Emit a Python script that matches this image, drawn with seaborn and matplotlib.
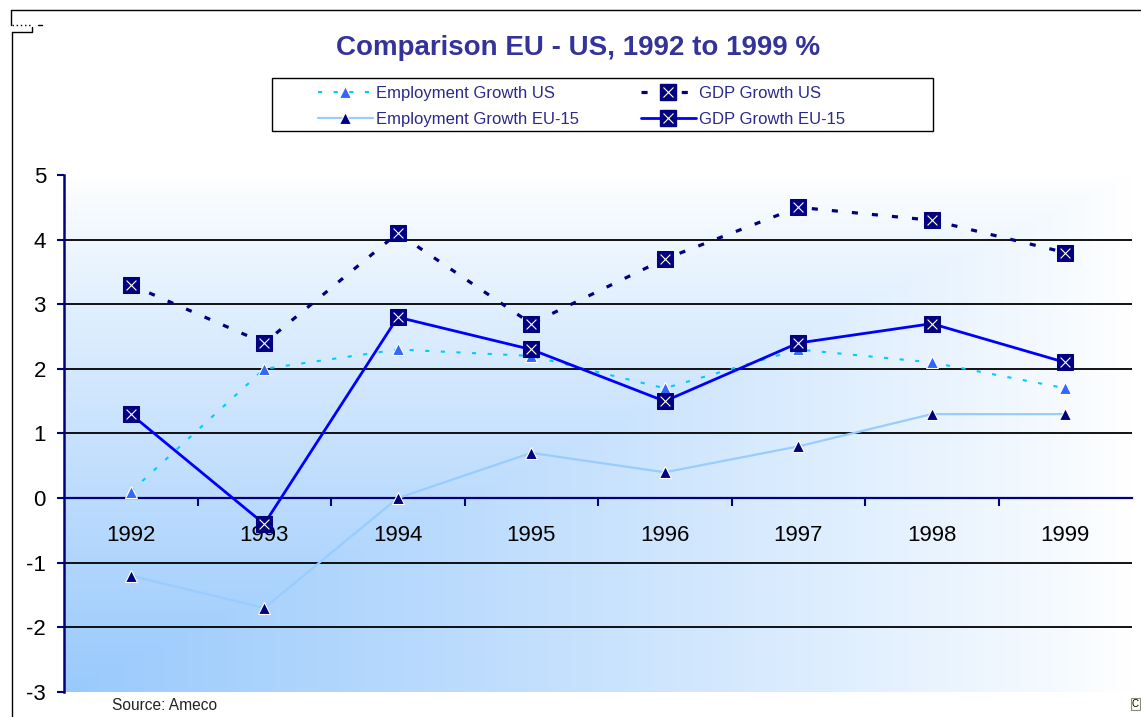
import numpy as np
import pandas as pd
import matplotlib
matplotlib.use("Agg")
import matplotlib.pyplot as plt
import seaborn as sns
from matplotlib.lines import Line2D
from matplotlib.patches import Rectangle
from matplotlib.legend_handler import HandlerTuple

# ---------------- data ----------------
years = ["1992", "1993", "1994", "1995", "1996", "1997", "1998", "1999"]
emp_us = [0.1, 2.0, 2.3, 2.2, 1.7, 2.3, 2.1, 1.7]
gdp_us = [3.3, 2.4, 4.1, 2.7, 3.7, 4.5, 4.3, 3.8]
emp_eu = [-1.2, -1.7, 0.0, 0.7, 0.4, 0.8, 1.3, 1.3]
gdp_eu = [1.3, -0.4, 2.8, 2.3, 1.5, 2.4, 2.7, 2.1]
y_ticks = [-3, -2, -1, 0, 1, 2, 3, 4, 5]
grid_vals = [-2, -1, 1, 2, 3, 4]
labels = ["Employment Growth US", "Employment Growth EU-15",
          "GDP Growth US", "GDP Growth EU-15"]
title = "Comparison EU - US, 1992 to 1999 %"
source = "Source: Ameco"

sns.set_style("white")
plt.rcParams["font.family"] = ["Liberation Sans", "DejaVu Sans"]

W, H = 1141, 717
fig = plt.figure(figsize=(W / 100, H / 100), dpi=100)
ax = fig.add_axes([64 / W, 25 / H, 1068 / W, 517 / H])

xs = np.arange(len(years))
df = pd.DataFrame({"x": xs, "emp_us": emp_us, "gdp_us": gdp_us,
                   "emp_eu": emp_eu, "gdp_eu": gdp_eu})

NAVY = "#000080"
CYAN = "#00ccff"
TRI_US = "#3366ff"
LBLUE = "#99ccff"
BLUE = "#0000ff"

# gradient background (from bottom-left corner)
gw, gh = 400, 300
u = np.linspace(0, 1, gw)[None, :]
v = np.linspace(0, 1, gh)[:, None]
f = (1 - np.maximum(u, v)) ** 0.9
c_blue = np.array([0.60, 0.79, 0.99])
c_white = np.array([1.0, 1.0, 1.0])
img = c_white[None, None, :] * (1 - f[..., None]) + c_blue[None, None, :] * f[..., None]
ax.imshow(img, extent=(-0.5, 7.5, -3, 5), origin="lower", aspect="auto",
          zorder=0, interpolation="bilinear")

# grid lines
ax.hlines(grid_vals, -0.5, 7.5, colors="black", linewidth=1.3, zorder=1)

TRI_MS = 9
SQ_MS = 11.5

# series
sns.lineplot(data=df, x="x", y="emp_us", ax=ax, color=CYAN, linewidth=1.5,
             linestyle=(0, (2, 5.5)), marker="^", markersize=TRI_MS,
             markerfacecolor=TRI_US, markeredgecolor="white",
             markeredgewidth=0.8, zorder=3)
sns.lineplot(data=df, x="x", y="emp_eu", ax=ax, color=LBLUE, linewidth=1.6,
             marker="^", markersize=TRI_MS, markerfacecolor=NAVY,
             markeredgecolor="white", markeredgewidth=0.8, zorder=3)
sns.lineplot(data=df, x="x", y="gdp_us", ax=ax, color=NAVY, linewidth=2.3,
             linestyle=(0, (1.9, 4.4)), marker="s", markersize=SQ_MS,
             markerfacecolor=NAVY, markeredgecolor=NAVY, zorder=4)
sns.scatterplot(data=df, x="x", y="gdp_us", ax=ax, marker="x", s=50,
                color="white", linewidth=0.8, zorder=5)
sns.lineplot(data=df, x="x", y="gdp_eu", ax=ax, color=BLUE, linewidth=2.0,
             marker="s", markersize=SQ_MS, markerfacecolor=NAVY,
             markeredgecolor=NAVY, zorder=4)
sns.scatterplot(data=df, x="x", y="gdp_eu", ax=ax, marker="x", s=50,
                color="white", linewidth=0.8, zorder=5)

ax.set_xlim(-0.5, 7.5)
ax.set_ylim(-3, 5)
ax.set_xlabel("")
ax.set_ylabel("")
for s in ["top", "right"]:
    ax.spines[s].set_visible(False)
ax.spines["bottom"].set_position(("data", 0))
ax.spines["bottom"].set_color(NAVY)
ax.spines["bottom"].set_linewidth(1.6)
ax.spines["bottom"].set_zorder(2)
ax.spines["left"].set_color(NAVY)
ax.spines["left"].set_linewidth(1.8)

ax.set_yticks(y_ticks)
ax.set_yticklabels([str(t) for t in y_ticks])
ax.tick_params(axis="y", which="major", left=True, direction="out",
               length=5, width=1.5, color=NAVY, labelsize=16, pad=8,
               labelcolor="black")

ax.set_xticks(np.arange(0.5, 7.0, 1.0))
ax.set_xticklabels([])
ax.set_xticks(xs, minor=True)
ax.set_xticklabels(years, minor=True)
ax.tick_params(axis="x", which="major", bottom=True, direction="out",
               length=6, width=1.5, color=NAVY)
ax.tick_params(axis="x", which="minor", bottom=True, length=0,
               labelsize=16, pad=19, labelcolor="black")
ax.grid(False)

# title
fig.text(578 / W, 1 - 48 / H, title, ha="center", va="center",
         fontsize=20, fontweight="bold", color="#333399")

# legend
h1 = Line2D([], [], color=CYAN, lw=1.5, ls=(0, (2, 5.5)), marker="^",
            ms=TRI_MS, mfc=TRI_US, mec="white", mew=0.8)
h2 = Line2D([], [], color=LBLUE, lw=1.6, marker="^", ms=TRI_MS,
            mfc=NAVY, mec="white", mew=0.8)
h3 = (Line2D([], [], color=NAVY, lw=2.3, ls=(0, (1.9, 4.4)), marker="s",
             ms=SQ_MS, mfc=NAVY, mec=NAVY),
      Line2D([], [], ls="none", marker="x", ms=7, mec="white", mew=0.8))
h4 = (Line2D([], [], color=BLUE, lw=2.0, marker="s", ms=SQ_MS,
             mfc=NAVY, mec=NAVY),
      Line2D([], [], ls="none", marker="x", ms=7, mec="white", mew=0.8))
fig.legend([h1, h2, h3, h4], labels, ncol=2, loc="upper left",
           bbox_to_anchor=(306 / W, 1 - 74 / H), frameon=False,
           fontsize=12, handlelength=3.3, handletextpad=0.2,
           columnspacing=3.7, labelspacing=0.68, borderpad=0.2,
           labelcolor="#2a2a8a",
           handler_map={tuple: HandlerTuple(ndivide=1)})
fig.add_artist(Rectangle((272 / W, 1 - 131 / H), 661 / W, 53 / H,
                         transform=fig.transFigure, fill=False,
                         edgecolor="black", lw=1.0))

# outer frame
fig.add_artist(Line2D([11 / W, 1], [1 - 10 / H, 1 - 10 / H],
                      transform=fig.transFigure, color="black", lw=1.0))
fig.add_artist(Line2D([11 / W, 11 / W], [1 - 10 / H, 1 - 25 / H],
                      transform=fig.transFigure, color="black", lw=1.0))
fig.add_artist(Line2D([12 / W, 31 / W], [1 - 25 / H, 1 - 25 / H],
                      transform=fig.transFigure, color="black", lw=1.0,
                      ls=(0, (1, 2))))
fig.add_artist(Line2D([38 / W, 42 / W], [1 - 25 / H, 1 - 25 / H],
                      transform=fig.transFigure, color="black", lw=1.0))
fig.add_artist(Line2D([12 / W, 32 / W, 32 / W],
                      [1 - 32 / H, 1 - 32 / H, 1 - 27 / H],
                      transform=fig.transFigure, color="black", lw=1.0))
fig.add_artist(Line2D([12 / W, 12 / W], [0, 1 - 32 / H],
                      transform=fig.transFigure, color="black", lw=1.0))

# source note
fig.text(112 / W, 1 - 706 / H, source, ha="left", va="center",
         fontsize=11.2, color="#222222")
fig.text(1132 / W, 1 - 704 / H, "C", ha="left", va="center", fontsize=7,
         color="black",
         bbox=dict(boxstyle="square,pad=0.12", fc="#fffff0", ec="#888888",
                   lw=0.8))

fig.savefig("out.png", dpi=100)
